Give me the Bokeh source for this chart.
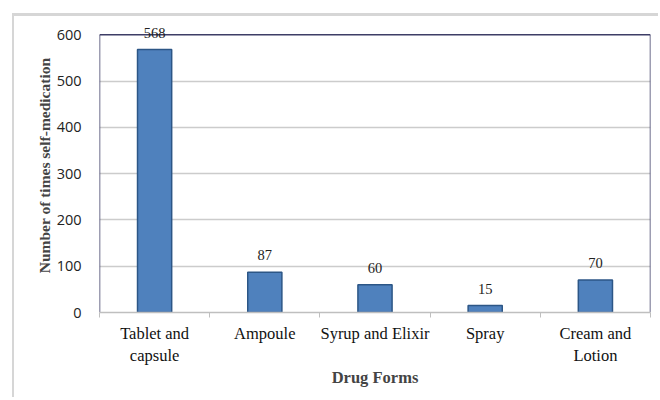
from bokeh.plotting import figure
from bokeh.models import ColumnDataSource, Range1d, FixedTicker, LabelSet
from bokeh.embed import file_html
from bokeh.resources import INLINE

# Self-medication counts by drug form
categories = ["Tablet and capsule", "Ampoule", "Syrup and Elixir", "Spray", "Cream and Lotion"]
tick_labels = ["Tablet and\ncapsule", "Ampoule", "Syrup and Elixir", "Spray", "Cream and\nLotion"]
counts = [568, 87, 60, 15, 70]
y_ticks = [0, 100, 200, 300, 400, 500, 600]
y_max = 600

positions = [i + 0.5 for i in range(len(categories))]
n = len(categories)
source = ColumnDataSource(dict(x=positions, top=counts, label=[str(c) for c in counts]))

# range extends a little above 600 so the tallest value label has room;
# the visible frame edge is drawn at 600
p = figure(
    width=646, height=384,
    x_range=Range1d(0, n), y_range=Range1d(0, 635),
    output_backend="svg", toolbar_location=None,
    min_border_left=85, min_border_right=10, min_border_top=2, min_border_bottom=88,
    margin=(13, 0, 0, 12),
    styles={"border-left": "2px solid #d6d6d6", "border-top": "3px solid #d6d6d6"},
)
p.outline_line_color = None
p.background_fill_color = "white"
p.border_fill_color = "white"

p.vbar(x="x", top="top", width=0.31, source=source,
       fill_color="#4f81bd", line_color="#2c5686", line_width=1.5)

p.add_layout(LabelSet(x="x", y="top", text="label", source=source,
                      text_align="center", text_baseline="middle", y_offset=17,
                      text_font="Open Sans", text_font_size="14.5px", text_color="#222222"))

# frame edges: left, top and right
frame_color = "#3d3d66"
p.segment(x0=[0, 0, n], y0=[0, y_max, 0], x1=[0, n, n], y1=[y_max, y_max, y_max],
          line_color=frame_color, line_width=1.5)

# x axis: labels centred under bars, small ticks at category boundaries
xt = FixedTicker(ticks=positions, minor_ticks=list(range(n + 1)))
p.xaxis.ticker = xt
p.xaxis.major_label_overrides = {pos: lab for pos, lab in zip(positions, tick_labels)}
p.xaxis.major_tick_line_color = None
p.xaxis.minor_tick_line_color = "#bfbfbf"
p.xaxis.minor_tick_out = 5
p.xaxis.minor_tick_in = 0
p.xaxis.axis_line_color = "#bfbfbf"
p.xaxis.axis_line_width = 1.5
p.xaxis.major_label_text_font = "Liberation Serif"
p.xaxis.major_label_text_font_size = "16.5px"
p.xaxis.major_label_text_color = "#111111"
p.xaxis.major_label_standoff = 5
p.xaxis.axis_label = "Drug Forms"
p.xaxis.axis_label_text_font = "Liberation Serif"
p.xaxis.axis_label_text_font_style = "bold"
p.xaxis.axis_label_text_font_size = "16.5px"
p.xaxis.axis_label_standoff = 0

p.yaxis.ticker = FixedTicker(ticks=y_ticks)
p.yaxis.major_tick_line_color = None
p.yaxis.minor_tick_line_color = None
p.yaxis.axis_line_color = None
p.yaxis.major_label_text_font = "Open Sans"
p.yaxis.major_label_text_font_size = "14.5px"
p.yaxis.major_label_text_color = "#222222"
p.yaxis.major_label_standoff = 12
p.yaxis.axis_label = "Number of times self-medication"
p.yaxis.axis_label_text_font = "Liberation Serif"
p.yaxis.axis_label_text_font_style = "bold"
p.yaxis.axis_label_text_font_size = "15.5px"
p.yaxis.axis_label_standoff = 1

p.xgrid.grid_line_color = None
p.ygrid.ticker = FixedTicker(ticks=[100, 200, 300, 400, 500])
p.ygrid.grid_line_color = "#cccccc"
p.ygrid.grid_line_width = 1.5

open("out.html", "w").write(file_html(p, INLINE))
